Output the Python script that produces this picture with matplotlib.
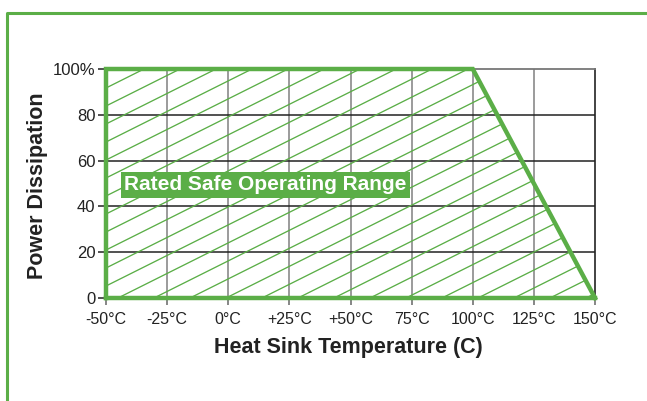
import numpy as np
import matplotlib
matplotlib.use("Agg")
import matplotlib.pyplot as plt
from matplotlib.patches import Polygon
from matplotlib.lines import Line2D

# === Data ===
temps = [-50, 100, 150]          # derating curve break points (C)
power = [100, 100, 0]            # % power dissipation
x_ticks = [-50, -25, 0, 25, 50, 75, 100, 125, 150]
x_labels = ["-50°C", "-25°C", "0°C", "+25°C", "+50°C", "75°C", "100°C", "125°C", "150°C"]
y_ticks = [0, 20, 40, 60, 80, 100]
y_labels = ["0", "20", "40", "60", "80", "100%"]
region_label = "Rated Safe Operating Range"

GREEN = "#5BAE47"
W, H = 647, 401
tick_font = ["Liberation Sans", "DejaVu Sans"]
bold_font = ["Liberation Sans", "DejaVu Sans"]

fig = plt.figure(figsize=(W / 100, H / 100), dpi=100)
ax_l, ax_r, ax_t, ax_b = 106, 595, 69, 298
ax = fig.add_axes([ax_l / W, 1 - ax_b / H, (ax_r - ax_l) / W, (ax_b - ax_t) / H])
ax.set_xlim(-50, 150)
ax.set_ylim(0, 100)

# grid
for x in x_ticks[1:-1]:
    ax.axvline(x, color="#8a8a8a", lw=1.2, zorder=1)
for y in y_ticks[1:-1]:
    ax.axhline(y, color="#222222", lw=1.1, zorder=1)

# safe operating area polygon
verts = [(temps[0], 0)] + list(zip(temps, power)) + [(temps[-1], 0)]
poly = Polygon(verts, closed=True, facecolor="none", edgecolor="none")
ax.add_patch(poly)

# diagonal hatch lines (pixel slope 0.5, spacing 36 px along bottom)
aw, ah = ax_r - ax_l, ax_b - ax_t
for x0 in np.arange(12 - 36 * 20, aw + 36, 36):
    xs = np.array([x0, x0 + 2 * ah + 40])
    ys = 0.5 * (xs - x0)
    ln = ax.plot(xs / aw, ys / ah, transform=ax.transAxes, color=GREEN, lw=0.95, zorder=2)[0]
    ln.set_clip_path(poly)

# curve outline
ax.plot([temps[0]] + temps, [0] + power, color=GREEN, lw=3.2, zorder=4,
        solid_joinstyle="miter", clip_on=False)
ax.plot([temps[0], temps[-1]], [0, 0], color=GREEN, lw=3.2, zorder=4, clip_on=False)

# spines
for s in ["left", "bottom"]:
    ax.spines[s].set_visible(False)
ax.spines["right"].set_color("#222222")
ax.spines["right"].set_linewidth(1.2)
ax.spines["top"].set_color("#777777")
ax.spines["top"].set_linewidth(1.3)

ax.set_xticks(x_ticks)
ax.set_xticklabels(x_labels, family=tick_font, fontsize=11.5, color="#222222")
ax.set_yticks(y_ticks)
ax.set_yticklabels(y_labels, family=tick_font, fontsize=12, color="#222222")
ax.tick_params(axis="x", length=5, width=1.1, color="#666666", pad=5)
ax.tick_params(axis="y", length=6, width=1.1, color="#222222", pad=1.5)

# label box
ax.text(-42.5, 49.5, region_label, family=bold_font, fontweight="bold", fontsize=15,
        color="white", va="center", ha="left", zorder=5,
        bbox=dict(boxstyle="square,pad=0.17", facecolor=GREEN, edgecolor="none"))

# axis titles
fig.text(38 / W, 1 - 186 / H, "Power Dissipation", rotation=90, ha="center", va="center",
         family=bold_font, fontweight="bold", fontsize=15.5, color="#222222")
fig.text(348 / W, 1 - 347 / H, "Heat Sink Temperature (C)", ha="center", va="center",
         family=bold_font, fontweight="bold", fontsize=15.5, color="#222222")

# outer green frame
fig.add_artist(Line2D([6.5 / W, 6.5 / W, 1.0], [0, 1 - 12.5 / H, 1 - 12.5 / H],
                      transform=fig.transFigure, color=GREEN, lw=2.2))

fig.savefig("out.png", dpi=100)
